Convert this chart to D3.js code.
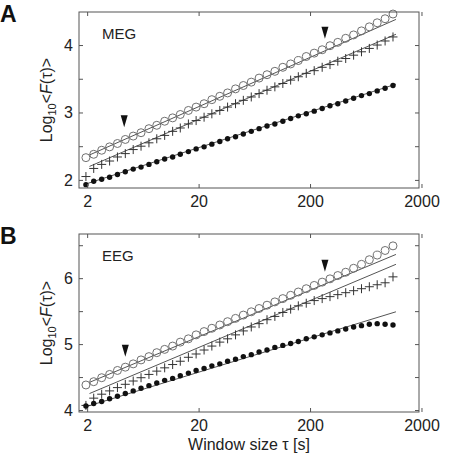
<!DOCTYPE html>
<html><head><meta charset="utf-8">
<script src="https://cdn.jsdelivr.net/npm/d3@7"></script>
<style>body{margin:0;background:#fff}text{font-family:"Liberation Sans",Arial,sans-serif}</style>
</head><body><svg id="c" width="450" height="464"></svg>
<script>
const tau = [1.95,2.29,2.70,3.18,3.74,4.40,5.18,6.09,7.17,8.43,9.92,11.7,13.7,16.2,19.0,22.4,26.3,31.0,36.4,42.9,50.4,59.4,69.8,82.2,96.7,114,134,157,185,218,257,302,355,418,492,579,681,801,943,1110];
const megCircles = [2.33,2.38,2.44,2.49,2.54,2.60,2.65,2.70,2.76,2.81,2.87,2.92,2.97,3.03,3.08,3.13,3.19,3.24,3.29,3.35,3.40,3.45,3.51,3.56,3.61,3.67,3.72,3.77,3.83,3.88,3.93,3.99,4.04,4.10,4.15,4.21,4.27,4.33,4.39,4.46];
const megCrosses = [2.05,2.17,2.23,2.28,2.34,2.39,2.45,2.50,2.55,2.61,2.66,2.72,2.77,2.83,2.88,2.93,2.98,3.03,3.08,3.13,3.18,3.23,3.28,3.33,3.38,3.43,3.48,3.53,3.58,3.62,3.67,3.71,3.76,3.80,3.85,3.90,3.95,4.00,4.06,4.12];
const megDots = [1.93,1.98,2.01,2.04,2.08,2.12,2.16,2.19,2.23,2.27,2.31,2.34,2.38,2.42,2.46,2.49,2.53,2.57,2.61,2.64,2.68,2.72,2.76,2.80,2.83,2.87,2.91,2.95,2.98,3.02,3.06,3.10,3.13,3.17,3.21,3.25,3.28,3.32,3.36,3.40];
const eegCircles = [4.38,4.43,4.49,4.54,4.60,4.65,4.70,4.76,4.81,4.87,4.92,4.97,5.03,5.08,5.14,5.19,5.24,5.29,5.34,5.39,5.44,5.49,5.54,5.59,5.64,5.69,5.74,5.79,5.84,5.89,5.94,5.99,6.04,6.09,6.15,6.21,6.28,6.35,6.42,6.49];
const eegCrosses = [4.07,4.18,4.24,4.29,4.34,4.39,4.44,4.49,4.54,4.59,4.64,4.69,4.74,4.80,4.85,4.91,4.97,5.03,5.08,5.14,5.20,5.26,5.31,5.37,5.42,5.48,5.53,5.58,5.62,5.66,5.69,5.72,5.75,5.78,5.81,5.84,5.87,5.90,5.93,6.02];
const eegDots = [4.06,4.10,4.13,4.17,4.21,4.25,4.29,4.33,4.37,4.41,4.45,4.48,4.52,4.56,4.60,4.63,4.67,4.70,4.74,4.77,4.81,4.84,4.88,4.91,4.95,4.98,5.01,5.04,5.08,5.11,5.14,5.17,5.20,5.23,5.26,5.28,5.30,5.31,5.30,5.29];
const megFits = [[[2.1,2.37],[1180,4.38]],[[2.1,2.2],[1180,4.16]],[[1.95,1.94],[1180,3.42]]];
const eegFits = [[[2.1,4.42],[1180,6.36]],[[2.1,4.25],[1180,6.21]],[[1.95,4.05],[1180,5.49]]];
const megArrows = [[4.3,2.96],[272,4.27]];
const eegArrows = [[4.4,4.99],[272,6.28]];
const xTicks = [2,20,200,2000];

const svg = d3.select("#c");
function panel(top, bottom, ydom, yTicks, circles, crosses, dots, fits, arrows, label, letter){
  const x = d3.scaleLog().domain([1.69,1900]).range([79,419]);
  const y = d3.scaleLinear().domain(ydom).range([bottom, top]);
  const g = svg.append("g");
  const sx = v=>x(v);
  fits.forEach(f=>g.append("line").attr("x1",x(f[0][0])).attr("y1",y(f[0][1])).attr("x2",x(f[1][0])).attr("y2",y(f[1][1])).attr("stroke","#555").attr("stroke-width",1));
  g.selectAll(".ci").data(tau).enter().append("circle").attr("cx",sx).attr("cy",(d,i)=>y(circles[i])).attr("r",4).attr("fill","none").attr("stroke","#707070").attr("stroke-width",1);
  g.selectAll(".cr").data(tau).enter().append("path").attr("d",(d,i)=>{const cx=x(d),cy=y(crosses[i]);return `M${cx-4.5},${cy}H${cx+4.5}M${cx},${cy-4.5}V${cy+4.5}`;}).attr("stroke","#333").attr("stroke-width",1);
  g.selectAll(".dt").data(tau).enter().append("circle").attr("cx",sx).attr("cy",(d,i)=>y(dots[i])).attr("r",2.7).attr("fill","#111");
  arrows.forEach(a=>{const cx=x(a[0]),cy=y(a[1]);g.append("path").attr("d",`M${cx-3.5},${cy}L${cx+3.5},${cy}L${cx},${cy+12}Z`).attr("fill","#111");});
  g.append("rect").attr("x",79).attr("y",top).attr("width",340).attr("height",bottom-top).attr("fill","none").attr("stroke","#555").attr("stroke-width",1);
  const ax = g.append("g").attr("transform",`translate(0,${bottom})`).call(d3.axisBottom(x).tickValues(xTicks).tickSize(-4).tickPadding(8).tickFormat(d3.format("d")));
  const axT = g.append("g").attr("transform",`translate(0,${top})`).call(d3.axisTop(x).tickValues(xTicks).tickSize(-4).tickFormat(""));
  const ay = g.append("g").attr("transform",`translate(79,0)`).call(d3.axisLeft(y).tickValues(yTicks).tickSize(-4).tickPadding(6).tickFormat(d=>Number.isInteger(d)?d:""));
  const ayR = g.append("g").attr("transform",`translate(419,0)`).call(d3.axisRight(y).tickValues(yTicks).tickSize(-4).tickFormat(""));
  [ax,axT,ay,ayR].forEach(a=>{a.select(".domain").remove();a.selectAll("line").attr("stroke","#555");a.selectAll("text").attr("font-size",16).attr("fill","#222");});
  g.append("text").attr("x",102).attr("y",top+27).attr("font-size",15).attr("fill","#222").text(label);
  g.append("text").attr("x",0).attr("y",top+10).attr("font-size",23).attr("font-weight","bold").attr("fill","#111").text(letter);
  const yl = g.append("text").attr("transform",`translate(52,${(top+bottom)/2}) rotate(-90)`).attr("text-anchor","middle").attr("font-size",16).attr("fill","#222");
  yl.append("tspan").text("Log");
  yl.append("tspan").attr("font-size",11).attr("dy",4).text("10");
  yl.append("tspan").attr("dy",-4).text("<");
  yl.append("tspan").attr("font-style","italic").text("F");
  yl.append("tspan").text("(τ)>");
}
panel(12,188,[1.88,4.49],[2,2.5,3,3.5,4],megCircles,megCrosses,megDots,megFits,megArrows,"MEG","A");
panel(234,412,[3.97,6.67],[4,4.5,5,5.5,6,6.5],eegCircles,eegCrosses,eegDots,eegFits,eegArrows,"EEG","B");
svg.append("text").attr("x",249).attr("y",450).attr("text-anchor","middle").attr("font-size",16).attr("fill","#222").text("Window size τ [s]");
</script></body></html>
